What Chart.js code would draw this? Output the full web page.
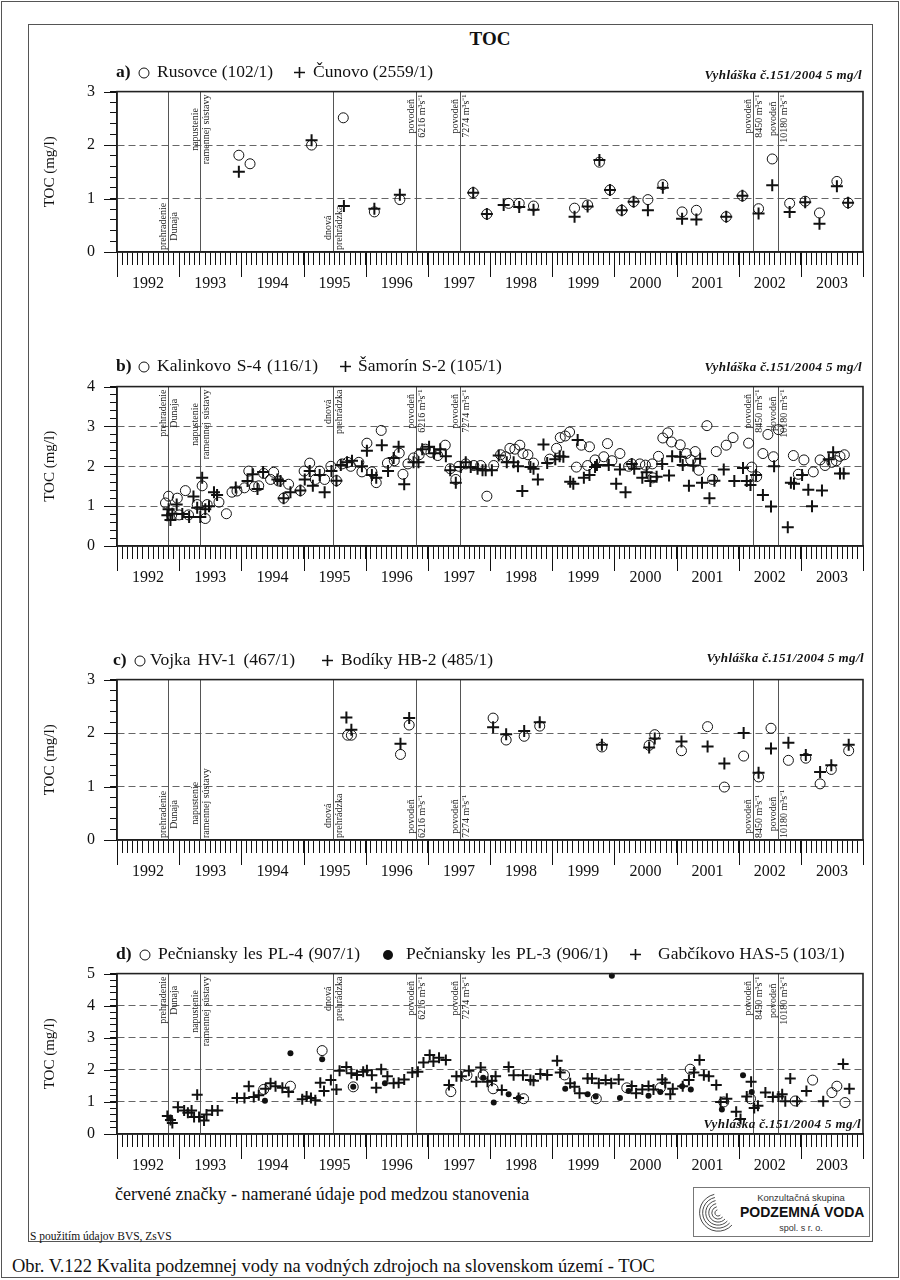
<!DOCTYPE html>
<html lang="sk">
<head>
<meta charset="UTF-8">
<title>TOC</title>
<script src="https://cdn.jsdelivr.net/npm/chart.js@4.4.0/dist/chart.umd.min.js"></script>
<style>
  body { margin: 0; background: #fff; }
  #page { position: relative; width: 900px; height: 1280px; font-family: "Liberation Serif", serif; color: #111; }
  .box { position: absolute; box-sizing: border-box; }
  .t { position: absolute; white-space: nowrap; line-height: 1; }
  .pt { font-size: 17.5px; }
  .vy { font-size: 13px; font-weight: bold; font-style: italic; letter-spacing: 0.4px; }
  canvas { position: absolute; }
  .mk { position: absolute; }
  .sans { font-family: "Liberation Sans", Arial, sans-serif; }
</style>
</head>
<body>
<div id="page">
  <div class="box" style="left:1px;top:1px;width:898px;height:1277px;border:1px solid #555;"></div>
  <div class="box" style="left:28px;top:24px;width:845px;height:1218px;border:1px solid #555;"></div>

  <div class="t" style="left:440px;width:100px;text-align:center;top:29px;font-size:19px;font-weight:bold;">TOC</div>

  <canvas id="chA"></canvas>
  <canvas id="chB"></canvas>
  <canvas id="chC"></canvas>
  <canvas id="chD"></canvas>

  <!-- a -->
  <div class="t pt" style="left:116px;top:63px;"><b>a)</b></div>
  <svg class="mk" style="left:138px;top:67px" width="12" height="12"><circle cx="6" cy="6" r="5" fill="none" stroke="#111" stroke-width="1"/></svg>
  <div class="t pt fit" data-w="116" style="left:157px;top:63px;">Rusovce (102/1)</div>
  <svg class="mk" style="left:293px;top:66px" width="13" height="13"><path d="M6.5 1V12M1 6.5H12" stroke="#111" stroke-width="1.6"/></svg>
  <div class="t pt fit" data-w="120" style="left:313px;top:63px;">Čunovo (2559/1)</div>
  <div class="t vy" style="right:38px;top:68px;">Vyhláška č.151/2004 5 mg/l</div>

  <!-- b -->
  <div class="t pt" style="left:116px;top:357px;"><b>b)</b></div>
  <svg class="mk" style="left:138px;top:361px" width="12" height="12"><circle cx="6" cy="6" r="5" fill="none" stroke="#111" stroke-width="1"/></svg>
  <div class="t pt fit" data-w="161" style="left:157px;top:357px;">Kalinkovo S-4 (116/1)</div>
  <svg class="mk" style="left:339px;top:360px" width="13" height="13"><path d="M6.5 1V12M1 6.5H12" stroke="#111" stroke-width="1.6"/></svg>
  <div class="t pt fit" data-w="142" style="left:358px;top:357px;">Šamorín S-2 (105/1)</div>
  <div class="t vy" style="right:38px;top:360px;">Vyhláška č.151/2004 5 mg/l</div>

  <!-- c -->
  <div class="t pt" style="left:113px;top:651px;"><b>c)</b></div>
  <svg class="mk" style="left:134px;top:655px" width="12" height="12"><circle cx="6" cy="6" r="5" fill="none" stroke="#111" stroke-width="1"/></svg>
  <div class="t pt fit" data-w="145" style="left:150px;top:651px;">Vojka HV-1 (467/1)</div>
  <svg class="mk" style="left:321px;top:654px" width="13" height="13"><path d="M6.5 1V12M1 6.5H12" stroke="#111" stroke-width="1.6"/></svg>
  <div class="t pt fit" data-w="152" style="left:341px;top:651px;">Bodíky HB-2 (485/1)</div>
  <div class="t vy" style="right:36px;top:651px;">Vyhláška č.151/2004 5 mg/l</div>

  <!-- d -->
  <div class="t pt" style="left:116px;top:945px;"><b>d)</b></div>
  <svg class="mk" style="left:139px;top:949px" width="12" height="12"><circle cx="6" cy="6" r="5" fill="none" stroke="#111" stroke-width="1"/></svg>
  <div class="t pt fit" data-w="202" style="left:158px;top:945px;">Pečniansky les PL-4 (907/1)</div>
  <svg class="mk" style="left:382px;top:949px" width="12" height="12"><circle cx="6" cy="6" r="5" fill="#111"/></svg>
  <div class="t pt fit" data-w="202" style="left:406px;top:945px;">Pečniansky les PL-3 (906/1)</div>
  <svg class="mk" style="left:629px;top:948px" width="13" height="13"><path d="M6.5 1V12M1 6.5H12" stroke="#111" stroke-width="1.6"/></svg>
  <div class="t pt fit" data-w="185" style="left:658px;top:945px;">Gabčíkovo HAS-5 (103/1)</div>
  <div class="t vy" style="right:39px;top:1117px;">Vyhláška č.151/2004 5 mg/l</div>

  <div class="t" style="left:115px;top:1185px;font-size:18px;">červené značky - namerané údaje pod medzou stanovenia</div>
  <div class="t" style="left:30px;top:1231px;font-size:11.5px;">S použitím údajov BVS, ZsVS</div>

  <div class="box" style="left:693px;top:1187px;width:177px;height:50px;border:1px solid #777;">
    <svg id="swirl" class="mk" style="left:3px;top:2px" width="40" height="46"></svg>
    <div class="t sans" style="left:60px;width:94px;text-align:center;top:5px;font-size:9.5px;color:#333;">Konzultačná skupina</div>
    <div class="t sans" style="left:46px;top:17px;font-size:14px;font-weight:bold;color:#111;">PODZEMNÁ VODA</div>
    <div class="t sans" style="left:60px;width:94px;text-align:center;top:36px;font-size:9px;color:#333;">spol. s r. o.</div>
  </div>

  <div class="t" style="left:12px;top:1257px;font-size:18.5px;">Obr. V.122 Kvalita podzemnej vody na vodných zdrojoch na slovenskom území - TOC</div>
</div>

<script>
  // roky na osi x
  const yearLabels = ['1992', '1993', '1994', '1995', '1996', '1997', '1998', '1999', '2000', '2001', '2002', '2003'];

  // udalosti (zvislé čiary)
  const eventDates = [1992.82, 1993.33, 1995.48, 1996.81, 1997.51, 2002.23, 2002.63];
  const eventText = [
    ['prehradenie', 'Dunaja'],
    ['napustenie', 'ramennej sústavy'],
    ['dnová', 'prehrádzka'],
    ['povodeň', '6216 m³s⁻¹'],
    ['povodeň', '7274 m³s⁻¹'],
    ['povodeň', '8450 m³s⁻¹'],
    ['povodeň', '10180 m³s⁻¹']
  ];
  const anchorsA = ['bottom', 'top', 'bottom', 'top', 'top', 'top', 'top'];
  const anchorsB = ['top', 'top', 'top', 'top', 'top', 'top', 'top'];
  const anchorsC = ['bottom', 'bottom', 'bottom', 'bottom', 'bottom', 'bottom', 'bottom'];
  const anchorsD = ['top', 'top', 'top', 'top', 'top', 'top', 'top'];

  // a) Rusovce, Čunovo  [rok, TOC mg/l]
  const rusovce = [[1993.96,1.81],[1994.14,1.65],[1995.13,2.00],[1995.64,2.51],[1996.14,0.75],[1996.55,0.98],[1997.73,1.11],[1997.95,0.71],[1998.30,0.91],[1998.47,0.91],[1998.70,0.86],[1999.36,0.82],[1999.57,0.88],[1999.76,1.68],[1999.93,1.16],[2000.12,0.78],[2000.31,0.94],[2000.54,0.98],[2000.78,1.26],[2001.09,0.75],[2001.32,0.78],[2001.80,0.66],[2002.06,1.05],[2002.32,0.81],[2002.54,1.74],[2002.82,0.91],[2003.07,0.95],[2003.30,0.73],[2003.58,1.32],[2003.76,0.92]];
  const cunovo = [[1993.96,1.50],[1995.13,2.09],[1995.65,0.86],[1996.14,0.81],[1996.55,1.07],[1997.73,1.11],[1997.95,0.71],[1998.22,0.88],[1998.47,0.84],[1998.70,0.79],[1999.36,0.66],[1999.57,0.85],[1999.76,1.72],[1999.93,1.16],[2000.12,0.78],[2000.31,0.94],[2000.54,0.78],[2000.78,1.20],[2001.09,0.62],[2001.32,0.61],[2001.80,0.66],[2002.06,1.05],[2002.32,0.72],[2002.54,1.25],[2002.82,0.75],[2003.07,0.93],[2003.30,0.53],[2003.58,1.23],[2003.76,0.92]];

  // b) Kalinkovo S-4, Šamorín S-2
  const kalinkovo = [[1992.83,1.25],[1992.78,1.08],[1992.97,1.20],[1993.10,1.39],[1992.88,0.78],[1993.00,0.78],[1993.15,0.78],[1993.29,1.04],[1993.37,1.51],[1993.42,0.69],[1993.45,1.04],[1993.64,1.10],[1993.76,0.81],[1993.85,1.35],[1993.93,1.38],[1994.05,1.46],[1994.12,1.88],[1994.21,1.49],[1994.28,1.51],[1994.36,1.82],[1994.47,1.67],[1994.52,1.85],[1994.60,1.63],[1994.68,1.20],[1994.76,1.55],[1994.95,1.39],[1995.01,1.88],[1995.10,2.08],[1995.19,1.67],[1995.26,1.88],[1995.34,1.67],[1995.44,2.00],[1995.53,1.64],[1995.62,2.06],[1995.71,2.10],[1995.76,2.00],[1995.89,2.10],[1995.94,1.86],[1996.02,2.58],[1996.10,1.86],[1996.17,1.59],[1996.25,2.90],[1996.35,2.08],[1996.46,2.14],[1996.54,2.33],[1996.60,1.80],[1996.68,2.06],[1996.77,2.21],[1996.86,2.29],[1996.96,2.43],[1997.05,2.35],[1997.16,2.27],[1997.28,2.53],[1997.36,1.94],[1997.45,1.67],[1997.50,2.00],[1997.61,2.06],[1997.74,2.02],[1997.85,2.02],[1997.95,1.25],[1998.06,2.02],[1998.17,2.29],[1998.25,2.24],[1998.32,2.45],[1998.40,2.43],[1998.48,2.53],[1998.53,2.32],[1998.61,2.29],[1998.70,2.08],[1998.96,2.18],[1999.07,2.45],[1999.13,2.72],[1999.21,2.76],[1999.28,2.86],[1999.39,1.98],[1999.47,2.53],[1999.57,2.02],[1999.60,2.49],[1999.69,2.16],[1999.83,2.24],[1999.89,2.57],[1999.96,2.14],[2000.09,2.32],[2000.23,2.00],[2000.28,2.06],[2000.41,2.06],[2000.50,2.03],[2000.61,2.06],[2000.62,1.71],[2000.71,2.25],[2000.78,2.71],[2000.86,2.84],[2000.92,2.61],[2001.06,2.54],[2001.16,2.32],[2001.23,2.16],[2001.30,2.37],[2001.36,1.90],[2001.49,3.02],[2001.58,1.67],[2001.64,2.37],[2001.80,2.53],[2001.91,2.72],[2002.16,2.58],[2002.21,1.98],[2002.29,1.74],[2002.39,2.32],[2002.47,2.80],[2002.56,2.24],[2002.64,2.92],[2002.88,2.27],[2002.96,1.80],[2003.05,2.16],[2003.20,1.86],[2003.31,2.16],[2003.39,2.02],[2003.50,2.10],[2003.57,2.14],[2003.63,2.25],[2003.70,2.29]];
  const samorin = [[1992.83,0.92],[1992.81,0.77],[1992.86,0.65],[1992.89,0.81],[1992.96,1.04],[1993.05,0.80],[1993.16,0.73],[1993.23,1.24],[1993.29,0.96],[1993.34,0.73],[1993.37,1.71],[1993.42,0.92],[1993.48,1.00],[1993.56,1.35],[1993.61,1.28],[1993.91,1.47],[1994.10,1.63],[1994.18,1.80],[1994.26,1.43],[1994.35,1.86],[1994.58,1.67],[1994.63,1.63],[1994.68,1.20],[1994.79,1.35],[1994.95,1.39],[1995.02,1.67],[1995.10,1.88],[1995.15,1.51],[1995.26,1.78],[1995.34,1.35],[1995.45,1.88],[1995.53,1.64],[1995.60,2.03],[1995.70,2.10],[1995.78,2.14],[1995.94,2.00],[1996.02,2.39],[1996.10,1.78],[1996.17,1.71],[1996.26,2.53],[1996.36,1.88],[1996.45,2.21],[1996.53,2.49],[1996.62,1.55],[1996.77,2.10],[1996.85,2.10],[1996.91,2.43],[1997.02,2.49],[1997.10,2.33],[1997.20,2.43],[1997.29,2.25],[1997.36,1.90],[1997.45,1.59],[1997.53,1.98],[1997.61,2.10],[1997.69,1.98],[1997.80,1.94],[1997.88,1.90],[1997.93,1.90],[1998.03,1.90],[1998.14,2.27],[1998.27,2.10],[1998.38,2.10],[1998.45,2.00],[1998.52,1.38],[1998.65,1.98],[1998.70,1.94],[1998.77,1.67],[1998.86,2.55],[1998.92,2.08],[1999.05,2.18],[1999.12,2.25],[1999.18,2.24],[1999.29,1.61],[1999.34,1.56],[1999.41,2.66],[1999.51,1.71],[1999.60,1.78],[1999.69,1.98],[1999.72,2.03],[1999.91,2.03],[2000.03,1.56],[2000.09,1.92],[2000.18,1.35],[2000.28,2.06],[2000.32,1.94],[2000.45,1.71],[2000.52,1.85],[2000.58,1.63],[2000.68,1.74],[2000.77,2.06],[2000.88,1.77],[2000.93,2.25],[2001.06,2.24],[2001.10,2.03],[2001.20,1.51],[2001.27,2.02],[2001.38,2.19],[2001.41,1.59],[2001.53,1.20],[2001.61,1.64],[2001.76,1.92],[2001.93,1.63],[2002.07,1.96],[2002.13,1.63],[2002.19,1.53],[2002.28,1.78],[2002.39,1.28],[2002.52,0.99],[2002.57,2.00],[2002.79,0.47],[2002.84,1.59],[2002.89,1.56],[2003.02,1.78],[2003.12,1.41],[2003.18,1.00],[2003.34,1.39],[2003.45,2.18],[2003.52,2.35],[2003.63,1.82],[2003.69,1.82]];

  // c) Vojka HV-1, Bodíky HB-2
  const vojka = [[1995.71,1.96],[1995.77,1.96],[1996.56,1.60],[1996.70,2.15],[1998.05,2.28],[1998.26,1.87],[1998.55,1.94],[1998.80,2.13],[1999.80,1.74],[2000.56,1.77],[2000.65,1.97],[2001.08,1.67],[2001.50,2.12],[2001.77,0.99],[2002.08,1.57],[2002.32,1.18],[2002.52,2.09],[2002.80,1.49],[2003.08,1.53],[2003.31,1.05],[2003.49,1.32],[2003.77,1.67]];
  const bodiky = [[1995.69,2.29],[1995.77,2.06],[1996.56,1.80],[1996.70,2.28],[1998.05,2.11],[1998.26,1.98],[1998.55,2.04],[1998.80,2.20],[1999.80,1.78],[2000.56,1.73],[2000.65,1.90],[2001.08,1.84],[2001.50,1.75],[2001.77,1.43],[2002.08,2.00],[2002.32,1.26],[2002.52,1.71],[2002.80,1.82],[2003.08,1.59],[2003.31,1.27],[2003.49,1.40],[2003.77,1.78]];

  // d) Pečniansky les PL-4, PL-3, Gabčíkovo HAS-5
  const pl4 = [[1994.36,1.39],[1994.79,1.49],[1995.30,2.60],[1995.80,1.47],[1997.37,1.32],[1997.63,1.83],[1997.89,1.84],[1998.05,1.41],[1998.54,1.10],[1999.20,1.84],[1999.71,1.10],[2000.20,1.44],[2000.74,1.44],[2001.22,2.02],[2001.76,1.00],[2002.19,1.10],[2002.91,1.03],[2003.19,1.68],[2003.50,1.29],[2003.58,1.49],[2003.71,0.98]];
  const pl3 = [[1992.85,0.50],[1994.38,1.04],[1994.79,2.52],[1995.30,2.33],[1995.80,1.47],[1996.31,1.58],[1997.89,1.75],[1998.06,0.98],[1998.30,1.24],[1998.46,1.12],[1999.21,1.41],[1999.57,1.24],[1999.70,1.17],[1999.96,4.93],[2000.09,1.12],[2000.23,1.34],[2000.55,1.19],[2000.74,1.31],[2001.09,1.49],[2001.23,1.39],[2001.73,0.76],[2002.07,1.83],[2002.21,1.31]];
  const has5 = [[1992.81,0.56],[1992.86,0.44],[1992.89,0.34],[1992.98,0.83],[1993.08,0.73],[1993.14,0.66],[1993.20,0.73],[1993.24,0.53],[1993.29,1.22],[1993.32,0.53],[1993.40,0.42],[1993.44,0.61],[1993.53,0.73],[1993.62,0.73],[1993.93,1.12],[1994.05,1.12],[1994.12,1.49],[1994.20,1.15],[1994.28,1.21],[1994.39,1.41],[1994.47,1.58],[1994.55,1.49],[1994.66,1.44],[1994.76,1.31],[1994.98,1.08],[1995.05,1.17],[1995.12,1.12],[1995.19,1.05],[1995.27,1.60],[1995.33,1.34],[1995.44,1.68],[1995.53,1.39],[1995.58,1.97],[1995.69,2.09],[1995.77,1.89],[1995.86,1.84],[1995.96,1.94],[1996.02,1.99],[1996.10,1.83],[1996.17,1.44],[1996.25,2.02],[1996.35,1.80],[1996.45,1.58],[1996.53,1.60],[1996.62,1.70],[1996.75,1.92],[1996.84,1.94],[1996.93,2.23],[1997.03,2.46],[1997.09,2.26],[1997.18,2.38],[1997.29,2.31],[1997.34,1.53],[1997.46,1.80],[1997.54,1.80],[1997.66,1.97],[1997.78,1.63],[1997.85,2.07],[1997.96,1.63],[1998.03,1.66],[1998.09,1.80],[1998.19,1.37],[1998.30,2.09],[1998.38,1.83],[1998.46,1.12],[1998.53,1.83],[1998.65,1.68],[1998.70,1.66],[1998.81,1.87],[1998.92,1.84],[1999.08,2.28],[1999.13,1.92],[1999.29,1.58],[1999.36,1.47],[1999.44,1.27],[1999.57,1.73],[1999.64,1.73],[1999.75,1.58],[1999.86,1.68],[1999.95,1.58],[2000.07,1.70],[2000.28,1.50],[2000.35,1.27],[2000.45,1.39],[2000.55,1.50],[2000.63,1.39],[2000.77,1.70],[2000.82,1.60],[2000.90,1.24],[2000.94,1.41],[2001.10,1.49],[2001.20,1.68],[2001.28,1.92],[2001.37,2.31],[2001.44,1.83],[2001.52,1.80],[2001.64,1.53],[2001.71,1.00],[2001.81,1.10],[2001.96,0.69],[2002.03,0.47],[2002.13,1.17],[2002.20,1.63],[2002.25,0.81],[2002.31,0.88],[2002.43,1.29],[2002.55,1.15],[2002.64,1.17],[2002.70,1.24],[2002.75,1.02],[2002.83,1.73],[2002.94,1.02],[2003.09,1.34],[2003.36,1.02],[2003.68,2.18],[2003.78,1.41]];

  const SERIF = '"Liberation Serif", serif';
  const isInt = v => Math.abs(v - Math.round(v)) < 1e-6;

  const decor = {
    id: 'decor',
    beforeDatasetsDraw(chart, args, opts) {
      const { ctx, chartArea: a, scales: { x } } = chart;
      ctx.save();
      ctx.font = '10px ' + SERIF;
      eventDates.forEach((d, i) => {
        const px = Math.round(x.getPixelForValue(d)) + 0.5;
        ctx.strokeStyle = '#555';
        ctx.lineWidth = 1;
        ctx.beginPath();
        ctx.moveTo(px, a.top);
        ctx.lineTo(px, a.bottom);
        ctx.stroke();

        const w = Math.max(ctx.measureText(eventText[i][0]).width, ctx.measureText(eventText[i][1]).width);
        const top = opts.anchors[i] === 'top';
        const cy = top ? a.top + 3 + w / 2 : a.bottom - 2 - w / 2;
        ctx.save();
        ctx.translate(px, cy);
        ctx.rotate(-Math.PI / 2);
        ctx.fillStyle = '#222';
        ctx.textAlign = 'center';
        ctx.textBaseline = 'middle';
        ctx.fillText(eventText[i][0], 0, -5.5);
        ctx.fillText(eventText[i][1], 0, 5.5);
        ctx.restore();
      });
      ctx.restore();
    },
    afterDraw(chart) {
      const { ctx, chartArea: a, scales: { x, y } } = chart;
      ctx.save();
      ctx.strokeStyle = '#111';
      ctx.lineWidth = 1;
      // dlhé značky rokov
      for (let k = 0; k <= yearLabels.length; k++) {
        const px = Math.round(x.getPixelForValue(1992 + k)) + 0.5;
        ctx.beginPath();
        ctx.moveTo(px, a.bottom);
        ctx.lineTo(px, a.bottom + 25);
        ctx.stroke();
      }
      // dlhé značky celých hodnôt
      for (let v = 0; v <= y.max; v++) {
        const py = Math.round(y.getPixelForValue(v)) + 0.5;
        ctx.beginPath();
        ctx.moveTo(a.left - 13, py);
        ctx.lineTo(a.left, py);
        ctx.stroke();
      }
      ctx.lineWidth = 1.6;
      ctx.strokeStyle = '#222';
      ctx.strokeRect(a.left, a.top, a.right - a.left, a.bottom - a.top);
      ctx.restore();
    }
  };

  const circleSet = (pts, r) => ({
    data: pts.map(([x, y]) => ({ x, y })),
    pointStyle: 'circle', pointRadius: r, borderWidth: 1,
    borderColor: '#111', backgroundColor: 'rgba(0,0,0,0)', clip: false
  });
  const plusSet = (pts, r) => ({
    data: pts.map(([x, y]) => ({ x, y })),
    pointStyle: 'cross', pointRadius: r, borderWidth: 2,
    borderColor: '#111', backgroundColor: '#111', clip: false
  });
  const dotSet = (pts) => ({
    data: pts.map(([x, y]) => ({ x, y })),
    pointStyle: 'circle', pointRadius: 3, borderWidth: 0,
    borderColor: '#111', backgroundColor: '#111', clip: false
  });

  function panel(id, plotTop, plotBottom, yMax, datasets, anchors) {
    const padTop = 14, axisH = 46;
    const cv = document.getElementById(id);
    cv.width = 845;
    cv.height = padTop + (plotBottom - plotTop) + axisH;
    cv.style.left = '28px';
    cv.style.top = (plotTop - padTop) + 'px';

    return new Chart(cv, {
      type: 'scatter',
      data: { datasets },
      plugins: [decor],
      options: {
        responsive: false,
        animation: false,
        events: [],
        layout: { padding: { top: padTop, right: 10, left: 0, bottom: 0 } },
        plugins: { legend: { display: false }, tooltip: { enabled: false }, decor: { anchors } },
        scales: {
          x: {
            type: 'linear', min: 1992, max: 2004,
            afterBuildTicks: s => { s.ticks = []; for (let i = 0; i <= 144; i++) s.ticks.push({ value: 1992 + i / 12 }); },
            afterFit: s => { s.height = axisH; },
            grid: { drawOnChartArea: false, color: '#111', tickColor: '#111', tickLength: 13, tickWidth: 1 },
            border: { display: true, color: '#111', width: 1.5 },
            ticks: {
              autoSkip: false, maxRotation: 0, minRotation: 0, padding: 9,
              color: '#111', font: { family: SERIF, size: 16 },
              callback: (v, i) => (i % 12 === 6 ? yearLabels[Math.floor(i / 12)] : '')
            }
          },
          y: {
            type: 'linear', min: 0, max: yMax,
            afterBuildTicks: s => { s.ticks = []; for (let i = 0; i <= yMax * 5; i++) s.ticks.push({ value: i / 5 }); },
            afterFit: s => { s.width = 89; },
            grid: {
              color: c => (isInt(c.tick.value) && c.tick.value > 0 && c.tick.value < yMax ? '#666' : ''),
              lineWidth: 1, tickColor: '#111', tickLength: 7, tickWidth: 1, tickBorderDash: []
            },
            border: { display: true, color: '#111', width: 1.5, dash: [7, 4] },
            title: {
              display: true, text: 'TOC (mg/l)', color: '#111',
              font: { family: SERIF, size: 15 }, padding: { top: 13, bottom: 0 }
            },
            ticks: {
              autoSkip: false, padding: 15, color: '#111',
              font: { family: SERIF, size: 16 },
              callback: v => (isInt(v) ? String(Math.round(v)) : '')
            }
          }
        }
      }
    });
  }

  panel('chA', 80.7, 252, 3, [circleSet(rusovce, 5), plusSet(cunovo, 6)], anchorsA);
  panel('chB', 375.6, 546, 4, [circleSet(kalinkovo, 5), plusSet(samorin, 6)], anchorsB);
  panel('chC', 669, 840, 3, [circleSet(vojka, 5), plusSet(bodiky, 6)], anchorsC);
  panel('chD', 963, 1134.3, 5, [circleSet(pl4, 5), dotSet(pl3), plusSet(has5, 5.5)], anchorsD);

  // šírka nadpisov podľa predlohy (len mierne rozšírenie medzier)
  document.querySelectorAll('.fit').forEach(el => {
    const target = +el.dataset.w;
    const gaps = (el.textContent.match(/ /g) || []).length;
    const diff = target - el.getBoundingClientRect().width;
    if (gaps) el.style.wordSpacing = Math.min(3, Math.max(0, diff / gaps)).toFixed(2) + 'px';
  });

  // logo
  let paths = '';
  for (let k = 1; k <= 6; k++) {
    const r = 3.1 * k;
    paths += `<path d="M${21 - r * 0.2} ${23 - r} A${r} ${r} 0 1 0 ${21 + r * 0.75} ${23 + r * 0.65}"/>`;
  }
  document.getElementById('swirl').innerHTML = `<g fill="none" stroke="#333" stroke-width="0.9">${paths}</g>`;
</script>
</body>
</html>
